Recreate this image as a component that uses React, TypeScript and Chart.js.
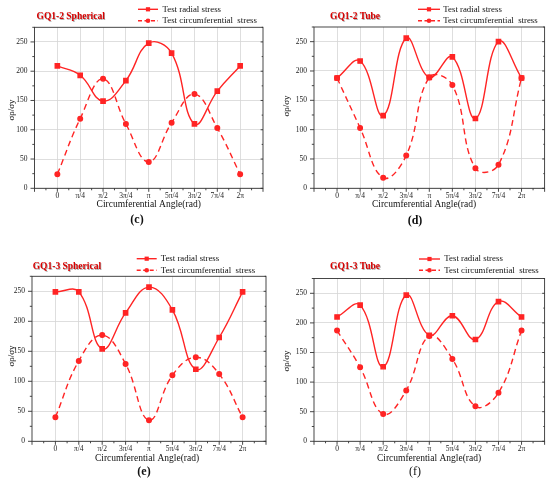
import { useEffect, useRef } from 'react';
import Chart from 'chart.js/auto';

// circumferential positions, 0 .. 2π in steps of π/4
const angleSteps = [0, 1, 2, 3, 4, 5, 6, 7, 8];
const angleLabels = ['0', 'π/4', 'π/2', '3π/4', 'π', '5π/4', '3π/2', '7π/4', '2π'];
const yTicks = [0, 50, 100, 150, 200, 250];

// (c) GQ1-2 Spherical
const gq12SphRadial = [209, 193, 149, 184, 248, 231, 110, 166, 209];
const gq12SphCirc = [24, 119, 187, 110, 45, 112, 161, 103, 24];
// (d) GQ1-2 Tube
const gq12TubeRadial = [188, 217, 124, 256, 189, 224, 119, 250, 188];
const gq12TubeCirc = [188, 103, 18, 56, 189, 176, 34, 40, 188];
// (e) GQ1-3 Spherical
const gq13SphRadial = [249, 249, 154, 214, 257, 219, 120, 173, 249];
const gq13SphCirc = [40, 134, 177, 129, 35, 110, 140, 112, 40];
// (f) GQ1-3 Tube
const gq13TubeRadial = [210, 230, 126, 247, 179, 212, 172, 236, 210];
const gq13TubeCirc = [187, 125, 46, 86, 178, 139, 59, 82, 187];

const seriesNames = ['Test radial stress', 'Test circumferential  stress'];

const RED = '#ff2424';
const W = 275;
const H = 248;

type Panel = {
  title: string;
  caption: string;
  radial: number[];
  circ: number[];
  left: number;
  top: number;
  area: { l: number; r: number; t: number; b: number };
  titlePos: [number, number];
  legend: { x0: number; x1: number; tx: number; y1: number; y2: number };
  yTitle: [number, number];
  xTitle: [number, number];
  cap: [number, number];
  capBold: boolean;
};

const panels: Panel[] = [
  {
    title: 'GQ1-2 Spherical', caption: '(c)', radial: gq12SphRadial, circ: gq12SphCirc,
    left: 0, top: 0,
    area: { l: 34.5, r: 263, t: 27.3, b: 188.3 },
    titlePos: [36.5, 17],
    legend: { x0: 138, x1: 158, tx: 162.5, y1: 9.3, y2: 20.7 },
    yTitle: [11.7, 110], xTitle: [148.7, 204], cap: [137, 220], capBold: true,
  },
  {
    title: 'GQ1-2 Tube', caption: '(d)', radial: gq12TubeRadial, circ: gq12TubeCirc,
    left: 275, top: 0,
    area: { l: 39, r: 270, t: 27, b: 188.3 },
    titlePos: [55, 17],
    legend: { x0: 143, x1: 165, tx: 168.3, y1: 9.3, y2: 20.7 },
    yTitle: [11.7, 106], xTitle: [149, 204], cap: [140, 221], capBold: true,
  },
  {
    title: 'GQ1-3 Spherical', caption: '(e)', radial: gq13SphRadial, circ: gq13SphCirc,
    left: 0, top: 248,
    area: { l: 32, r: 266, t: 28.3, b: 193.3 },
    titlePos: [32.7, 18.5],
    legend: { x0: 136.7, x1: 156.7, tx: 160.7, y1: 10.7, y2: 22.3 },
    yTitle: [11.7, 108], xTitle: [147, 210], cap: [144, 224], capBold: true,
  },
  {
    title: 'GQ1-3 Tube', caption: '(f)', radial: gq13TubeRadial, circ: gq13TubeCirc,
    left: 275, top: 248,
    area: { l: 39, r: 270, t: 30.5, b: 193.3 },
    titlePos: [55, 18.7],
    legend: { x0: 144, x1: 165, tx: 169.3, y1: 11, y2: 22.3 },
    yTitle: [11.7, 113], xTitle: [154, 210], cap: [140, 224], capBold: false,
  },
];

const SERIF = '"Liberation Serif", "Times New Roman", serif';

function drawMarker(ctx: CanvasRenderingContext2D, style: string, x: number, y: number) {
  ctx.fillStyle = RED;
  ctx.beginPath();
  if (style === 'rect') ctx.rect(x - 2.1, y - 2.1, 4.2, 4.2);
  else ctx.arc(x, y, 2.3, 0, Math.PI * 2);
  ctx.fill();
}

function PanelChart({ p }: { p: Panel }) {
  const canvasRef = useRef<HTMLCanvasElement | null>(null);

  useEffect(() => {
    if (!canvasRef.current) return;
    const ctx = canvasRef.current.getContext('2d');
    if (!ctx) return;

    const decor = {
      id: 'decor',
      afterDraw(chart: Chart) {
        const c = chart.ctx;
        const a = chart.chartArea;
        const xs = chart.scales.x;
        const ys = chart.scales.y;
        c.save();
        // frame
        c.strokeStyle = '#333';
        c.lineWidth = 0.9;
        c.strokeRect(a.left, a.top, a.right - a.left, a.bottom - a.top);
        // y ticks, major and minor
        c.beginPath();
        for (let v = 0; v <= 275; v += 25) {
          const py = ys.getPixelForValue(v);
          const len = v % 50 === 0 ? 4 : 2.2;
          c.moveTo(a.left - len, py);
          c.lineTo(a.left, py);
          c.moveTo(a.right, py);
          c.lineTo(a.right - len * 0.6, py);
        }
        // x ticks
        for (let s = -1; s <= 9; s += 0.5) {
          const px = xs.getPixelForValue(s);
          const len = Number.isInteger(s) ? 3.5 : 2;
          c.moveTo(px, a.bottom);
          c.lineTo(px, a.bottom + len);
        }
        c.stroke();

        // panel title
        c.font = `bold 9.5px ${SERIF}`;
        c.textBaseline = 'middle';
        c.textAlign = 'left';
        c.fillStyle = '#b0b0b0';
        c.fillText(p.title, p.titlePos[0] + 0.8, p.titlePos[1] + 0.8);
        c.fillStyle = '#d80000';
        c.fillText(p.title, p.titlePos[0], p.titlePos[1]);

        // legend
        const lg = p.legend;
        const rows: [number, string, number[]][] = [
          [lg.y1, 'rect', []],
          [lg.y2, 'circle', [4, 2.5]],
        ];
        rows.forEach(([ry, style, dash], i) => {
          c.strokeStyle = RED;
          c.lineWidth = 1.4;
          c.setLineDash(dash);
          c.beginPath();
          c.moveTo(lg.x0, ry);
          c.lineTo(lg.x1, ry);
          c.stroke();
          c.setLineDash([]);
          drawMarker(c, style, (lg.x0 + lg.x1) / 2, ry);
          c.fillStyle = '#111';
          c.font = `8.8px ${SERIF}`;
          c.fillText(seriesNames[i], lg.tx, ry);
        });

        // axis titles
        c.fillStyle = '#111';
        c.font = `9.5px ${SERIF}`;
        c.textAlign = 'center';
        c.fillText('Circumferential Angle(rad)', p.xTitle[0], p.xTitle[1]);
        c.save();
        c.translate(p.yTitle[0], p.yTitle[1]);
        c.rotate(-Math.PI / 2);
        c.font = `9px ${SERIF}`;
        c.fillText('σρ/σy', 0, 0);
        c.restore();

        // caption
        c.font = `${p.capBold ? 'bold ' : ''}12px ${SERIF}`;
        c.fillText(p.caption, p.cap[0], p.cap[1]);
        c.restore();
      },
    };

    const toPoints = (vals: number[]) => angleSteps.map((s, i) => ({ x: s, y: vals[i] }));

    const chart = new Chart(ctx, {
      type: 'line',
      data: {
        datasets: [
          {
            label: seriesNames[0],
            data: toPoints(p.radial),
            borderColor: RED,
            backgroundColor: RED,
            borderWidth: 1.4,
            pointStyle: 'rect',
            pointRadius: 3,
            tension: 0.42,
          },
          {
            label: seriesNames[1],
            data: toPoints(p.circ),
            borderColor: RED,
            backgroundColor: RED,
            borderWidth: 1.4,
            borderDash: [6, 4],
            pointStyle: 'circle',
            pointRadius: 2.3,
            tension: 0.42,
          },
        ],
      },
      options: {
        animation: false,
        responsive: false,
        layout: {
          padding: { left: 0, right: W - p.area.r, top: p.area.t, bottom: 0 },
        },
        plugins: { legend: { display: false }, tooltip: { enabled: false } },
        scales: {
          x: {
            type: 'linear',
            min: -1,
            max: 9,
            afterBuildTicks: (s: any) => {
              s.ticks = angleSteps.map((v) => ({ value: v }));
            },
            afterFit: (s: any) => {
              s.height = H - p.area.b;
            },
            grid: { color: '#d6d6d6', lineWidth: 0.8, drawTicks: false },
            border: { display: false },
            ticks: {
              padding: 3,
              color: '#222',
              font: { family: SERIF, size: 7.5 },
              maxRotation: 0,
              autoSkip: false,
              callback: (v: any) => angleLabels[angleSteps.indexOf(Number(v))] ?? '',
            },
          },
          y: {
            min: 0,
            max: 275,
            afterBuildTicks: (s: any) => {
              s.ticks = yTicks.map((v) => ({ value: v }));
            },
            afterFit: (s: any) => {
              s.width = p.area.l;
            },
            grid: { color: '#d6d6d6', lineWidth: 0.8, drawTicks: false },
            border: { display: false },
            ticks: {
              padding: 7,
              color: '#222',
              font: { family: SERIF, size: 7.5 },
            },
          },
        },
      },
      plugins: [decor],
    });

    return () => {
      chart.destroy();
    };
  }, [p]);

  return (
    <div style={{ position: 'absolute', left: p.left, top: p.top, width: W, height: H }}>
      <canvas ref={canvasRef} width={W} height={H} style={{ display: 'block', width: W, height: H }} />
    </div>
  );
}

export default function App() {
  return (
    <div style={{ position: 'absolute', left: 0, top: 0, width: 550, height: 496, background: '#fff' }}>
      {panels.map((p) => (
        <PanelChart key={p.caption} p={p} />
      ))}
    </div>
  );
}
